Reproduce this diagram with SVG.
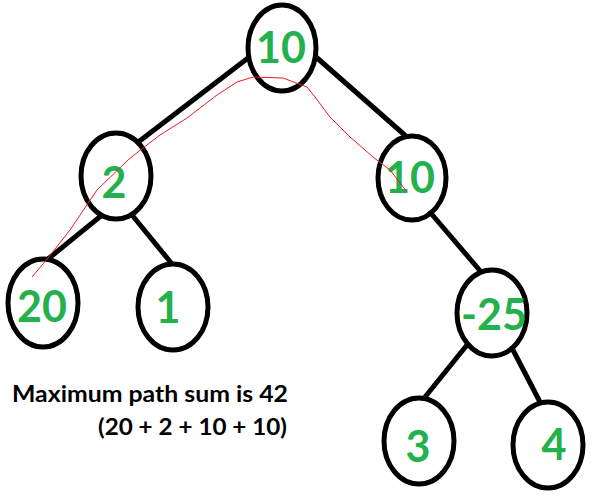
<svg xmlns="http://www.w3.org/2000/svg" width="598" height="499" viewBox="0 0 598 499">
<style>
.n ellipse{fill:none;stroke:#000;stroke-width:5}
.n text{font-family:"Lato","Open Sans",sans-serif;font-weight:bold;font-size:43px;fill:#22b14c;text-anchor:middle}
.e line{stroke:#000;stroke-width:5;stroke-linecap:butt}
.lbl{font-family:"Lato","Open Sans",sans-serif;font-weight:bold;font-size:23px;fill:#000}
</style>
<rect width="598" height="499" fill="#fff"/>
<g class="e" id="connectors">
<line x1="248" y1="58" x2="137" y2="143"/>
<line x1="316" y1="57" x2="407" y2="137"/>
<line x1="102" y1="215" x2="48" y2="259"/>
<line x1="132" y1="215" x2="172" y2="264"/>
<line x1="429" y1="211" x2="482" y2="273"/>
<line x1="467" y1="345" x2="425" y2="397"/>
<line x1="513" y1="350" x2="540" y2="402"/>
</g>
<g class="n" id="n10top"><ellipse cx="282" cy="48" rx="34" ry="43"/><text x="281" y="63">10</text></g>
<g class="n" id="n2"><ellipse cx="116" cy="176" rx="35" ry="43"/><text x="114" y="198">2</text></g>
<g class="n" id="n10right"><ellipse cx="412" cy="178" rx="34" ry="42"/><text x="410" y="193">10</text></g>
<g class="n" id="n20"><ellipse cx="43" cy="303" rx="35" ry="44"/><text x="42" y="322">20</text></g>
<g class="n" id="n1"><ellipse cx="173" cy="307" rx="35" ry="43"/><text x="168" y="323">1</text></g>
<g class="n" id="nm25"><ellipse cx="492" cy="313" rx="35" ry="43"/><text x="494" y="330">-25</text></g>
<g class="n" id="n3"><ellipse cx="419" cy="441" rx="35" ry="43"/><text x="418" y="462">3</text></g>
<g class="n" id="n4"><ellipse cx="548" cy="445" rx="35" ry="43"/><text x="554" y="460">4</text></g>
<path id="path" d="M32,277 L48,258 L70,230 L97,190 L128,160 L143,148 L160,135 L187,118 L200,108 L217,95 L237,82 L253,77 L283,78 L307,87 L315,97 L330,117 L350,137 L373,157 L390,170 L407,192" fill="none" stroke="#ed1c24" stroke-width="1"/>
<text class="lbl" x="12" y="402" textLength="276" lengthAdjust="spacingAndGlyphs">Maximum path sum is 42</text>
<text class="lbl" x="98" y="435" textLength="189" lengthAdjust="spacingAndGlyphs">(20 + 2 + 10 + 10)</text>
</svg>
